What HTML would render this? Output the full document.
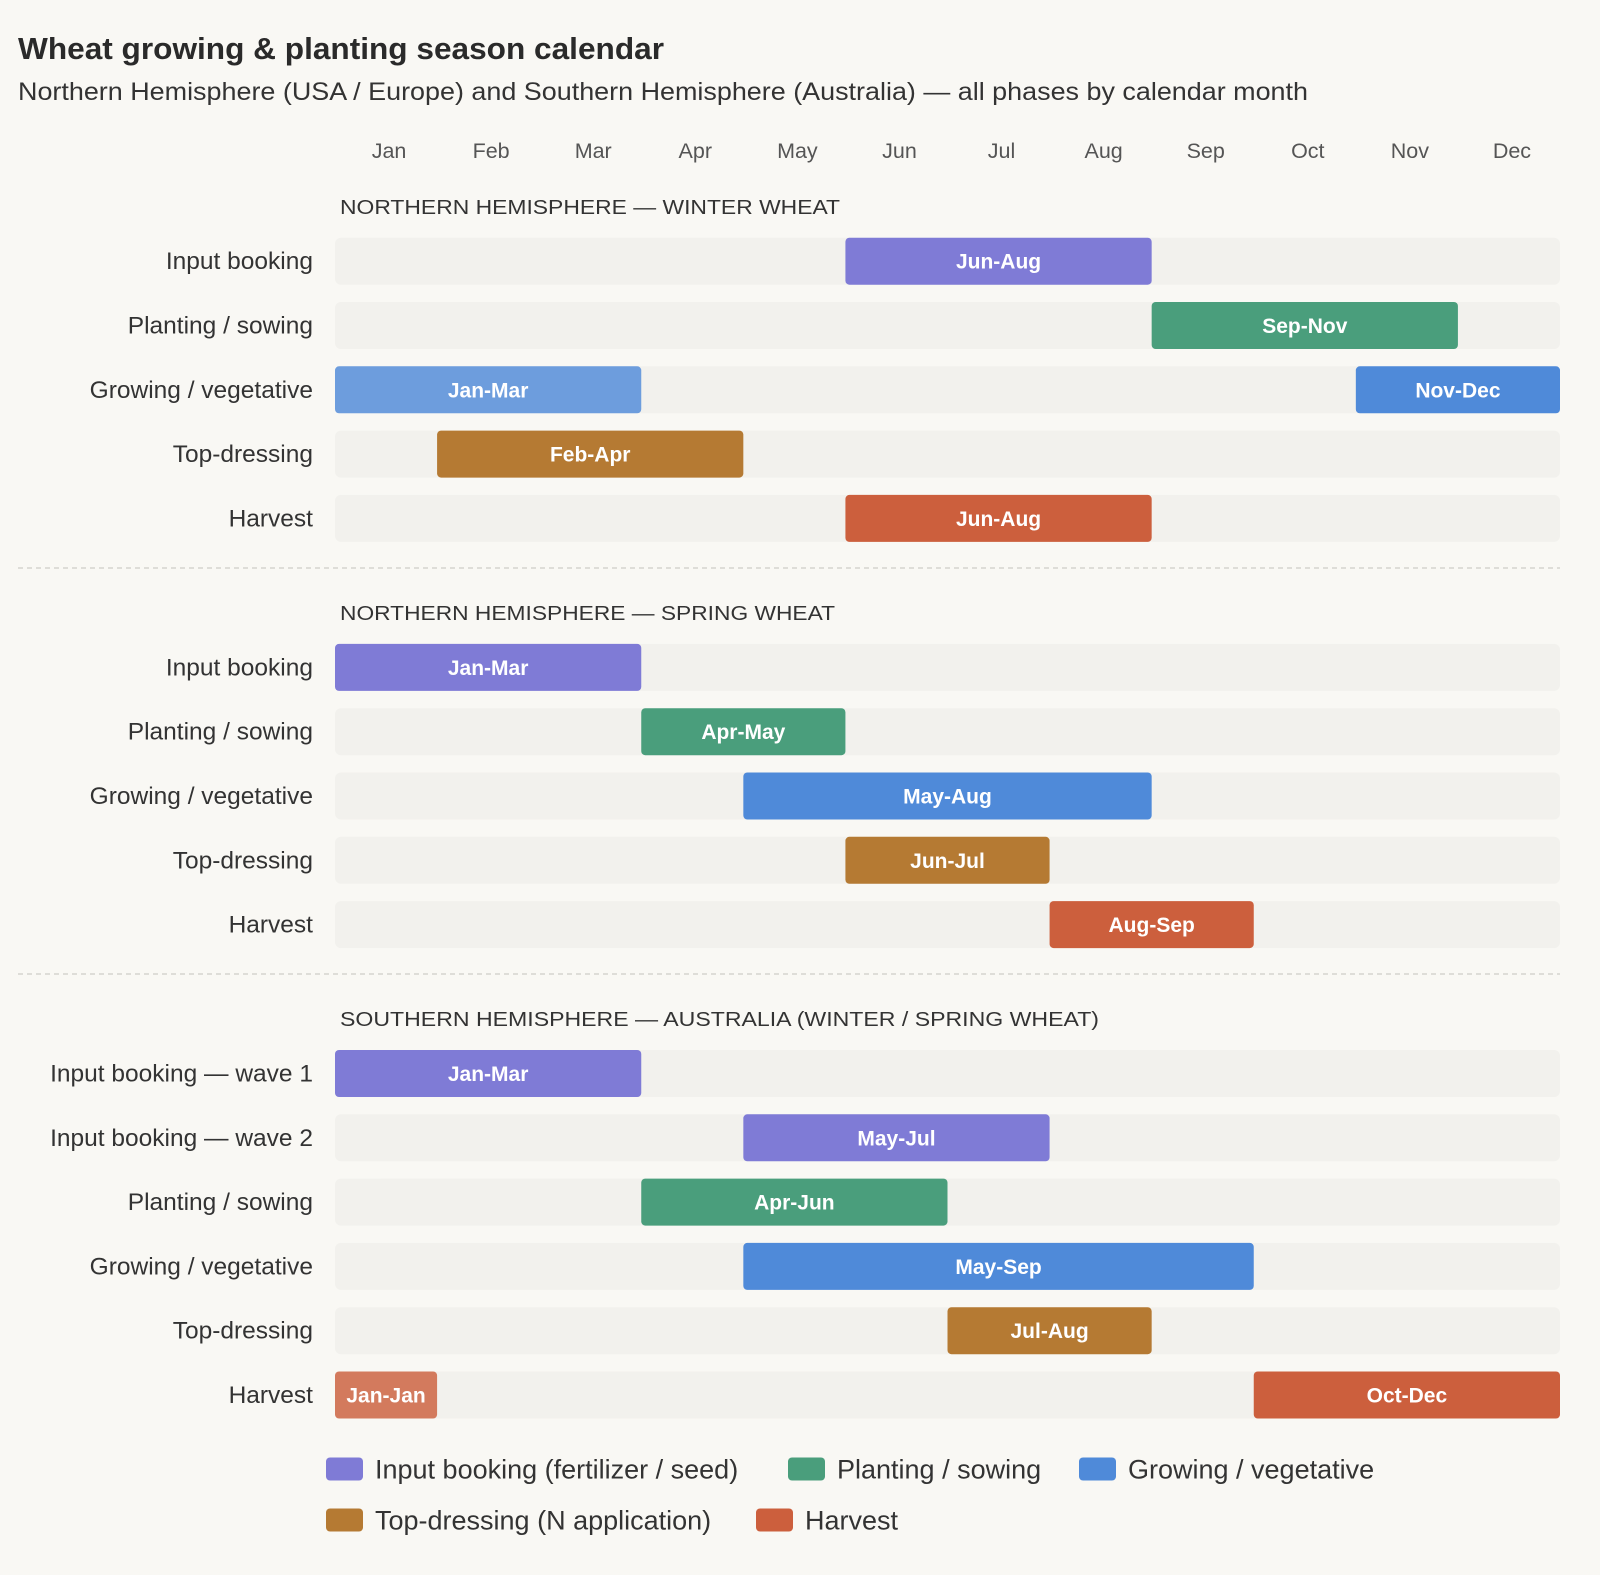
<!DOCTYPE html>
<html><head><meta charset="utf-8">
<style>
html,body{margin:0;padding:0;background:#f9f8f4;}
svg{display:block;font-family:"Liberation Sans",sans-serif;}
</style></head>
<body>
<svg id="chart" width="1600" height="1575" viewBox="0 0 1600 1575" xmlns="http://www.w3.org/2000/svg">
<rect width="1600" height="1575" fill="#f9f8f4"/>
<text x="18" y="59" font-size="31" font-weight="bold" fill="#2a2a2a" textLength="646" lengthAdjust="spacingAndGlyphs">Wheat growing &amp; planting season calendar</text>
<text x="18" y="100" font-size="25" fill="#333" textLength="1290" lengthAdjust="spacingAndGlyphs">Northern Hemisphere (USA / Europe) and Southern Hemisphere (Australia) — all phases by calendar month</text>
<g id="g"></g>
</svg>
<script>
const months = ["Jan","Feb","Mar","Apr","May","Jun","Jul","Aug","Sep","Oct","Nov","Dec"];
const sections = ["NORTHERN HEMISPHERE — WINTER WHEAT","NORTHERN HEMISPHERE — SPRING WHEAT","SOUTHERN HEMISPHERE — AUSTRALIA (WINTER / SPRING WHEAT)"];
const sectionWidths = [500,495,759];
const rowLabels1 = ["Input booking","Planting / sowing","Growing / vegetative","Top-dressing","Harvest"];
const rowPhases1 = ["input","plant","grow","top","harv"];
const rowStart1 = [6,9,11,2,6];
const rowEnd1 = [8,11,3,4,8];
const rowLabels2 = ["Input booking","Planting / sowing","Growing / vegetative","Top-dressing","Harvest"];
const rowPhases2 = ["input","plant","grow","top","harv"];
const rowStart2 = [1,4,5,6,8];
const rowEnd2 = [3,5,8,7,9];
const rowLabels3 = ["Input booking — wave 1","Input booking — wave 2","Planting / sowing","Growing / vegetative","Top-dressing","Harvest"];
const rowPhases3 = ["input","input","plant","grow","top","harv"];
const rowStart3 = [1,5,4,5,7,10];
const rowEnd3 = [3,7,6,9,8,1];
const legendLabels = ["Input booking (fertilizer / seed)","Planting / sowing","Growing / vegetative","Top-dressing (N application)","Harvest"];
const legendPhases = ["input","plant","grow","top","harv"];

const colors={input:"#7f7bd6",plant:"#4a9e7c",grow:"#4f8ad9",top:"#b57a33",harv:"#cc5f3d"};
const X0=335,X1=1560,MW=(X1-X0)/12,BH=47,PITCH=64.3;
const xm=m=>X0+(m-1)*MW;
const NS="http://www.w3.org/2000/svg";
const g=document.getElementById('g');
function el(t,a,p){const e=document.createElementNS(NS,t);for(const k in a)e.setAttribute(k,a[k]);(p||g).appendChild(e);return e;}

months.forEach((m,i)=>{
  const t=el('text',{x:xm(i+1)+MW/2+3,y:158,'font-size':21.5,fill:'#555','text-anchor':'middle'});
  t.textContent=m;
  
  
});

const secs=[
 {hy:207,r0:261.2,L:rowLabels1,P:rowPhases1,S:rowStart1,E:rowEnd1,div:568},
 {hy:613,r0:667.4,L:rowLabels2,P:rowPhases2,S:rowStart2,E:rowEnd2,div:974},
 {hy:1019,r0:1073.5,L:rowLabels3,P:rowPhases3,S:rowStart3,E:rowEnd3,div:null}
];
function bar(s,e,phase,cy,label,faded,name){
  const x=xm(s),w=(e-s+1)*MW;
  const r=el('rect',{x:x,y:cy-BH/2,width:w,height:BH,rx:4,fill:colors[phase],opacity:faded?0.82:1});
  
  
  const t=el('text',{x:x+w/2,y:cy+7.5,'font-size':21,'font-weight':'bold',fill:'#fff','text-anchor':'middle'});
  t.textContent=label;
  
  
}
secs.forEach((sc,si)=>{
  const h=el('text',{x:340,y:sc.hy+7,'font-size':20.5,fill:'#333',textLength:sectionWidths[si],lengthAdjust:'spacingAndGlyphs'});
  h.textContent=sections[si];
  
  
  sc.L.forEach((lab,i)=>{
    const cy=sc.r0+i*PITCH;
    const l=el('text',{x:313,y:cy+8,'font-size':24.5,fill:'#333','text-anchor':'end'});
    l.textContent=lab;
    
    
    const tr=el('rect',{x:X0,y:cy-BH/2,width:X1-X0,height:BH,rx:6,fill:'#f2f1ed'});
    
    
    const s=sc.S[i],e=sc.E[i],ph=sc.P[i];
    if(e>=s){
      bar(s,e,ph,cy,months[s-1]+'-'+months[e-1],false,'bar-'+ph);
    }else{
      bar(1,e,ph,cy,months[0]+'-'+months[e-1],true,'bar-'+ph+'-wrap');
      bar(s,12,ph,cy,months[s-1]+'-'+months[11],false,'bar-'+ph);
    }
  });
  if(sc.div){
    const d=el('line',{x1:18,x2:X1,y1:sc.div,y2:sc.div,stroke:'#d6d4cf','stroke-width':1.5,'stroke-dasharray':'5,4'});
    
    
  }
});
const lpos=[[326,1469],[788,1469],[1079,1469],[326,1520],[756,1520]];
legendLabels.forEach((lab,i)=>{
  const [x,y]=lpos[i];
  const s=el('rect',{x:x,y:y-11.5,width:37,height:23,rx:4,fill:colors[legendPhases[i]]});
  
  
  const t=el('text',{x:x+49,y:y+9.5,'font-size':27,fill:'#333'});
  t.textContent=lab;
  
  
});
</script>
</body></html>
